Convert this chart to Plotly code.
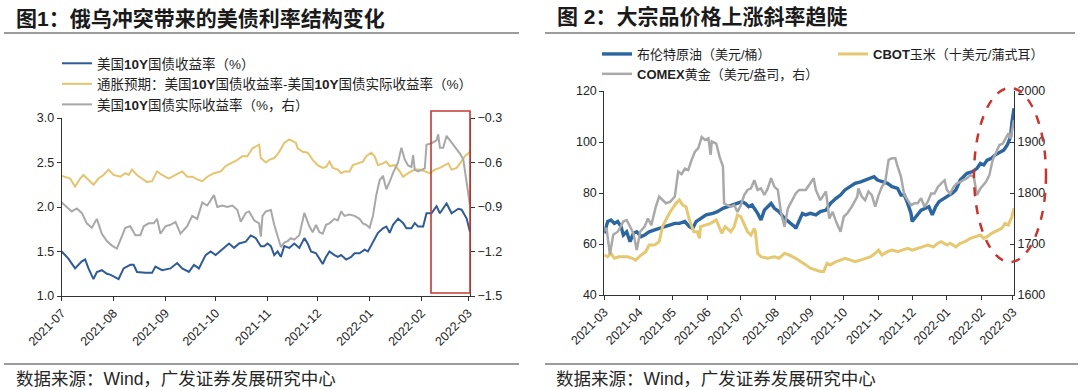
import plotly.graph_objects as go

# ---------------- Left chart data (图1) ----------------
us10y_dates = [
    "2021-07-01", "2021-07-05", "2021-07-09", "2021-07-13", "2021-07-15", "2021-07-17", "2021-07-20", "2021-07-22", "2021-07-25", "2021-07-28", "2021-07-30",
    "2021-08-04", "2021-08-07", "2021-08-11", "2021-08-13", "2021-08-15", "2021-08-20", "2021-08-24", "2021-08-26", "2021-08-30",
    "2021-09-04", "2021-09-08", "2021-09-11", "2021-09-15", "2021-09-18", "2021-09-21", "2021-09-25", "2021-09-28",
    "2021-10-01", "2021-10-05", "2021-10-09", "2021-10-12", "2021-10-15", "2021-10-19", "2021-10-22", "2021-10-25", "2021-10-28", "2021-10-30",
    "2021-11-01", "2021-11-03", "2021-11-05", "2021-11-07", "2021-11-09", "2021-11-11", "2021-11-14", "2021-11-17", "2021-11-20", "2021-11-23", "2021-11-25", "2021-11-27", "2021-11-30",
    "2021-12-02", "2021-12-04", "2021-12-06", "2021-12-08", "2021-12-11", "2021-12-13", "2021-12-15", "2021-12-18", "2021-12-21", "2021-12-23", "2021-12-26", "2021-12-29", "2021-12-31",
    "2022-01-03", "2022-01-06", "2022-01-09", "2022-01-11", "2022-01-13", "2022-01-15", "2022-01-18", "2022-01-21", "2022-01-23", "2022-01-26", "2022-01-28", "2022-01-30",
    "2022-02-02", "2022-02-04", "2022-02-07", "2022-02-10", "2022-02-12", "2022-02-16", "2022-02-19", "2022-02-23", "2022-02-25", "2022-02-28",
    "2022-03-02",
]
us10y_vals = [
    1.50, 1.42, 1.31, 1.39, 1.41, 1.31, 1.19, 1.27, 1.29, 1.25, 1.24,
    1.19, 1.31, 1.35, 1.35, 1.27, 1.26, 1.26, 1.33, 1.29,
    1.31, 1.37, 1.31, 1.27, 1.35, 1.31, 1.46, 1.50,
    1.46, 1.52, 1.59, 1.54, 1.59, 1.61, 1.68, 1.65, 1.56, 1.56,
    1.59, 1.56, 1.46, 1.50, 1.44, 1.56, 1.54, 1.59, 1.54, 1.65, 1.59, 1.50, 1.48,
    1.42, 1.36, 1.44, 1.50, 1.46, 1.44, 1.46, 1.41, 1.44, 1.48, 1.48, 1.52, 1.50,
    1.61, 1.71, 1.76, 1.78, 1.71, 1.80, 1.87, 1.82, 1.76, 1.76, 1.82, 1.78,
    1.78, 1.93, 1.93, 2.01, 1.93, 2.04, 1.93, 1.98, 1.97, 1.87,
    1.72,
]

breakeven_dates = [
    "2021-07-01", "2021-07-06", "2021-07-09", "2021-07-12", "2021-07-14", "2021-07-17", "2021-07-20", "2021-07-23", "2021-07-26", "2021-07-29",
    "2021-08-01", "2021-08-05", "2021-08-08", "2021-08-10", "2021-08-12", "2021-08-15", "2021-08-18", "2021-08-21", "2021-08-24", "2021-08-27", "2021-08-30",
    "2021-09-03", "2021-09-07", "2021-09-11", "2021-09-14", "2021-09-17", "2021-09-20", "2021-09-23", "2021-09-26", "2021-09-30",
    "2021-10-04", "2021-10-07", "2021-10-10", "2021-10-14", "2021-10-17", "2021-10-20", "2021-10-23", "2021-10-27", "2021-10-28", "2021-10-31",
    "2021-11-02", "2021-11-05", "2021-11-08", "2021-11-11", "2021-11-14", "2021-11-16", "2021-11-18", "2021-11-19", "2021-11-22", "2021-11-25", "2021-11-28",
    "2021-12-01", "2021-12-04", "2021-12-06", "2021-12-08", "2021-12-10", "2021-12-13", "2021-12-15", "2021-12-17", "2021-12-20", "2021-12-22", "2021-12-25", "2021-12-28", "2021-12-30",
    "2022-01-02", "2022-01-04", "2022-01-06", "2022-01-09", "2022-01-11", "2022-01-13", "2022-01-16", "2022-01-19", "2022-01-21", "2022-01-24", "2022-01-26", "2022-01-28", "2022-01-31",
    "2022-02-03", "2022-02-06", "2022-02-09", "2022-02-12", "2022-02-15", "2022-02-17", "2022-02-19", "2022-02-22", "2022-02-24", "2022-02-27",
    "2022-03-02",
]
breakeven_vals = [
    2.35, 2.32, 2.23, 2.32, 2.36, 2.31, 2.25, 2.32, 2.36, 2.42,
    2.36, 2.34, 2.38, 2.36, 2.42, 2.36, 2.32, 2.28, 2.29, 2.40, 2.36,
    2.32, 2.36, 2.40, 2.34, 2.34, 2.31, 2.29, 2.34, 2.38,
    2.40, 2.46, 2.49, 2.53, 2.57, 2.57, 2.66, 2.70, 2.55, 2.50,
    2.53, 2.55, 2.62, 2.72, 2.76, 2.74, 2.72, 2.66, 2.62, 2.61, 2.53,
    2.47, 2.44, 2.45, 2.51, 2.44, 2.42, 2.38, 2.40, 2.40, 2.47, 2.49, 2.51, 2.57,
    2.61, 2.57, 2.47, 2.49, 2.51, 2.46, 2.47, 2.40, 2.34, 2.38, 2.40, 2.42, 2.42,
    2.40, 2.38, 2.42, 2.44, 2.47, 2.49, 2.42, 2.44, 2.49, 2.57,
    2.62,
]

real_dates = [
    "2021-07-01", "2021-07-04", "2021-07-07", "2021-07-10", "2021-07-13", "2021-07-16", "2021-07-19", "2021-07-22", "2021-07-25", "2021-07-28", "2021-07-31",
    "2021-08-03", "2021-08-05", "2021-08-08", "2021-08-11", "2021-08-14", "2021-08-17", "2021-08-19", "2021-08-22", "2021-08-25", "2021-08-27", "2021-08-29",
    "2021-09-01", "2021-09-04", "2021-09-07", "2021-09-10", "2021-09-14", "2021-09-17", "2021-09-20", "2021-09-23", "2021-09-26", "2021-09-30",
    "2021-10-02", "2021-10-05", "2021-10-08", "2021-10-11", "2021-10-14", "2021-10-16", "2021-10-19", "2021-10-21", "2021-10-24", "2021-10-27", "2021-10-28", "2021-10-29", "2021-10-31",
    "2021-11-03", "2021-11-05", "2021-11-07", "2021-11-09", "2021-11-11", "2021-11-13", "2021-11-15", "2021-11-17", "2021-11-20", "2021-11-23", "2021-11-26", "2021-11-28", "2021-11-30",
    "2021-12-02", "2021-12-04", "2021-12-06", "2021-12-08", "2021-12-11", "2021-12-13", "2021-12-15", "2021-12-17", "2021-12-20", "2021-12-23", "2021-12-26", "2021-12-28", "2021-12-30",
    "2022-01-01", "2022-01-03", "2022-01-05", "2022-01-07", "2022-01-09", "2022-01-11", "2022-01-13", "2022-01-15", "2022-01-18", "2022-01-20", "2022-01-22", "2022-01-24", "2022-01-26", "2022-01-27", "2022-01-28", "2022-01-30",
    "2022-02-01", "2022-02-03", "2022-02-04", "2022-02-07", "2022-02-10", "2022-02-11", "2022-02-12", "2022-02-14", "2022-02-16", "2022-02-18", "2022-02-21", "2022-02-24", "2022-02-26", "2022-02-28",
    "2022-03-02",
]
real_vals = [
    -0.87, -0.90, -0.93, -0.91, -0.94, -1.01, -1.04, -0.98, -1.08, -1.13, -1.16,
    -1.18, -1.12, -1.04, -1.03, -1.09, -1.09, -1.03, -1.01, -1.01, -0.98, -1.08,
    -1.03, -1.02, -1.00, -1.08, -1.03, -0.96, -0.98, -0.87, -0.89, -0.82,
    -0.90, -0.89, -0.90, -0.89, -0.92, -1.00, -0.94, -0.93, -0.99, -1.01, -1.10, -0.96, -0.93,
    -0.92, -1.02, -1.10, -1.17, -1.14, -1.13, -1.11, -1.12, -1.09, -0.94, -1.03, -1.07, -1.02,
    -1.07, -1.08, -1.02, -1.01, -0.98, -0.99, -0.93, -0.96, -0.95, -0.96, -0.98, -1.01, -1.02,
    -1.04, -0.96, -0.82, -0.72, -0.69, -0.78, -0.73, -0.67, -0.60, -0.50, -0.58, -0.62, -0.63, -0.55, -0.65, -0.66,
    -0.65, -0.64, -0.48, -0.47, -0.45, -0.41, -0.50, -0.50, -0.42, -0.45, -0.49, -0.54, -0.58, -0.74,
    -0.89,
]

# ---------------- Right chart data (图2) ----------------
brent_dates = [
    "2021-03-01", "2021-03-04", "2021-03-07", "2021-03-10", "2021-03-13", "2021-03-16", "2021-03-18", "2021-03-21", "2021-03-24", "2021-03-27", "2021-03-30",
    "2021-04-03", "2021-04-06", "2021-04-10", "2021-04-15", "2021-04-19", "2021-04-24", "2021-04-28",
    "2021-05-03", "2021-05-07", "2021-05-12", "2021-05-16", "2021-05-19", "2021-05-22", "2021-05-27", "2021-05-31",
    "2021-06-06", "2021-06-10", "2021-06-15", "2021-06-19", "2021-06-24", "2021-06-28",
    "2021-07-02", "2021-07-05", "2021-07-08", "2021-07-11", "2021-07-16", "2021-07-19", "2021-07-22", "2021-07-25", "2021-07-28", "2021-07-31",
    "2021-08-04", "2021-08-09", "2021-08-13", "2021-08-18", "2021-08-19", "2021-08-22", "2021-08-25", "2021-08-28",
    "2021-09-01", "2021-09-06", "2021-09-10", "2021-09-15", "2021-09-19", "2021-09-24", "2021-09-28",
    "2021-10-02", "2021-10-07", "2021-10-11", "2021-10-16", "2021-10-20", "2021-10-25", "2021-10-28", "2021-10-31",
    "2021-11-04", "2021-11-09", "2021-11-13", "2021-11-18", "2021-11-21", "2021-11-24", "2021-11-27", "2021-11-30",
    "2021-12-01", "2021-12-04", "2021-12-09", "2021-12-13", "2021-12-16", "2021-12-19", "2021-12-22", "2021-12-25", "2021-12-28",
    "2022-01-01", "2022-01-06", "2022-01-09", "2022-01-13", "2022-01-16", "2022-01-19", "2022-01-24", "2022-01-28", "2022-01-31",
    "2022-02-03", "2022-02-06", "2022-02-10", "2022-02-13", "2022-02-18", "2022-02-21", "2022-02-24", "2022-02-27", "2022-02-28",
    "2022-03-02",
]
brent_vals = [
    64.2, 68.8, 69.4, 68.1, 68.8, 66.8, 63.5, 64.8, 60.9, 64.2, 64.8,
    62.9, 63.5, 64.8, 65.5, 66.1, 66.8, 67.5,
    68.1, 68.1, 68.8, 66.8, 66.1, 68.8, 70.1, 71.4,
    72.0, 72.7, 74.0, 74.6, 75.3, 75.9,
    76.6, 75.9, 74.6, 75.3, 72.0, 69.4, 73.3, 74.6, 75.9, 74.0,
    72.7, 70.1, 68.8, 66.8, 66.1, 68.8, 72.0, 71.4,
    72.0, 71.4, 72.7, 73.3, 75.9, 77.9, 79.2,
    81.2, 82.5, 83.8, 84.4, 85.1, 85.8, 86.4, 85.1,
    84.4, 83.8, 82.5, 81.8, 79.2, 79.2, 75.9, 72.0,
    68.8, 70.7, 73.3, 74.0, 74.6, 71.4, 74.6, 76.6, 77.3,
    78.6, 79.9, 81.2, 85.1, 86.4, 87.7, 88.4, 89.7, 91.6,
    91.0, 92.9, 93.6, 94.9, 96.2, 96.9, 98.8, 102.1, 107.3,
    113.2,
]

corn_dates = [
    "2021-03-01", "2021-03-04", "2021-03-07", "2021-03-10", "2021-03-14", "2021-03-19", "2021-03-22", "2021-03-26", "2021-03-29",
    "2021-04-03", "2021-04-07", "2021-04-10", "2021-04-15", "2021-04-19", "2021-04-22", "2021-04-25", "2021-04-29",
    "2021-05-04", "2021-05-07", "2021-05-10", "2021-05-13", "2021-05-16", "2021-05-20", "2021-05-23", "2021-05-25", "2021-05-26", "2021-05-31",
    "2021-06-04", "2021-06-09", "2021-06-12", "2021-06-14", "2021-06-17", "2021-06-22", "2021-06-25", "2021-06-28",
    "2021-07-01", "2021-07-04", "2021-07-07", "2021-07-10", "2021-07-13", "2021-07-14", "2021-07-16", "2021-07-19", "2021-07-25", "2021-07-31",
    "2021-08-04", "2021-08-09", "2021-08-13", "2021-08-19", "2021-08-24", "2021-08-28",
    "2021-09-01", "2021-09-06", "2021-09-10", "2021-09-13", "2021-09-16", "2021-09-19", "2021-09-24", "2021-09-28",
    "2021-10-02", "2021-10-07", "2021-10-11", "2021-10-16", "2021-10-20", "2021-10-25", "2021-10-29",
    "2021-11-01", "2021-11-04", "2021-11-09", "2021-11-13", "2021-11-18", "2021-11-22", "2021-11-27",
    "2021-12-01", "2021-12-06", "2021-12-11", "2021-12-15", "2021-12-20", "2021-12-24", "2021-12-27",
    "2022-01-01", "2022-01-04", "2022-01-09", "2022-01-13", "2022-01-17", "2022-01-22", "2022-01-26", "2022-01-31",
    "2022-02-03", "2022-02-06", "2022-02-10", "2022-02-13", "2022-02-16", "2022-02-19", "2022-02-22", "2022-02-25", "2022-02-28",
    "2022-03-02",
]
corn_vals = [
    55.7, 55.0, 56.3, 54.4, 55.0, 55.0, 55.0, 54.4, 53.7,
    55.7, 57.0, 59.6, 59.6, 60.9, 66.8, 69.4, 72.7,
    75.9, 77.3, 75.3, 74.6, 69.4, 64.8, 64.8, 62.2, 66.8, 67.5,
    68.1, 69.4, 66.1, 64.2, 66.8, 64.8, 66.8, 71.4,
    70.7, 67.5, 64.8, 63.5, 66.1, 64.8, 56.3, 55.0, 54.4, 55.0,
    54.4, 56.3, 55.7, 54.4, 53.1, 51.8,
    50.5, 49.8, 49.2, 49.2, 52.4, 51.8, 53.1, 53.7,
    54.4, 53.7, 53.1, 53.7, 54.4, 55.0, 56.3,
    57.6, 55.7, 57.0, 57.6, 57.0, 57.6, 58.3,
    57.6, 58.3, 58.9, 59.6, 58.9, 60.3, 60.9,
    59.6, 60.3, 58.9, 60.3, 60.9, 62.2, 62.9, 63.5,
    62.2, 62.9, 64.2, 64.8, 65.5, 66.1, 68.1, 67.5, 70.7,
    74.0,
]

gold_dates = [
    "2021-03-01", "2021-03-03", "2021-03-06", "2021-03-09", "2021-03-13", "2021-03-18", "2021-03-21", "2021-03-24", "2021-03-27", "2021-03-30",
    "2021-04-02", "2021-04-06", "2021-04-09", "2021-04-12", "2021-04-16", "2021-04-19", "2021-04-22", "2021-04-25", "2021-04-29",
    "2021-05-03", "2021-05-06", "2021-05-09", "2021-05-12", "2021-05-15", "2021-05-18", "2021-05-21", "2021-05-24", "2021-05-27", "2021-05-30",
    "2021-06-02", "2021-06-04", "2021-06-05", "2021-06-09", "2021-06-12", "2021-06-15", "2021-06-16", "2021-06-19", "2021-06-22", "2021-06-25", "2021-06-28",
    "2021-07-01", "2021-07-04", "2021-07-07", "2021-07-10", "2021-07-13", "2021-07-16", "2021-07-19", "2021-07-22", "2021-07-25", "2021-07-28", "2021-07-31",
    "2021-08-03", "2021-08-06", "2021-08-09", "2021-08-12", "2021-08-16", "2021-08-19", "2021-08-22", "2021-08-28",
    "2021-09-04", "2021-09-06", "2021-09-10", "2021-09-15", "2021-09-18", "2021-09-21", "2021-09-24", "2021-09-28",
    "2021-10-01", "2021-10-04", "2021-10-08", "2021-10-13", "2021-10-14", "2021-10-17", "2021-10-20", "2021-10-23", "2021-10-26", "2021-10-29",
    "2021-11-01", "2021-11-04", "2021-11-07", "2021-11-09", "2021-11-10", "2021-11-13", "2021-11-16", "2021-11-18", "2021-11-21", "2021-11-24", "2021-11-27", "2021-11-30",
    "2021-12-03", "2021-12-06", "2021-12-09", "2021-12-12", "2021-12-15", "2021-12-18", "2021-12-21", "2021-12-24", "2021-12-27", "2021-12-30",
    "2022-01-01", "2022-01-04", "2022-01-07", "2022-01-10", "2022-01-13", "2022-01-16", "2022-01-19", "2022-01-22", "2022-01-25", "2022-01-28", "2022-01-31",
    "2022-02-05", "2022-02-08", "2022-02-11", "2022-02-14", "2022-02-17", "2022-02-20", "2022-02-23", "2022-02-25", "2022-02-27",
    "2022-03-01", "2022-03-02",
]
gold_vals = [
    1727, 1731, 1680, 1718, 1724, 1744, 1747, 1734, 1721, 1688,
    1724, 1734, 1750, 1737, 1773, 1793, 1786, 1780, 1783,
    1793, 1842, 1837, 1848, 1845, 1865, 1881, 1888, 1910, 1904,
    1907, 1875, 1901, 1897, 1871, 1852, 1780, 1776, 1773, 1776, 1763,
    1776, 1796, 1806, 1809, 1825, 1806, 1809, 1796, 1809, 1829, 1812,
    1806, 1760, 1734, 1770, 1786, 1799, 1806, 1806,
    1829, 1806, 1786, 1803, 1750, 1763, 1744, 1724,
    1754, 1760, 1773, 1793, 1809, 1793, 1786, 1803, 1796, 1773,
    1796, 1812, 1822, 1852, 1865, 1868, 1868, 1852, 1832, 1796, 1786, 1776,
    1780, 1780, 1790, 1773, 1783, 1799, 1799, 1812, 1819, 1825,
    1806, 1799, 1812, 1819, 1822, 1825, 1829, 1835, 1832, 1796, 1809,
    1822, 1835, 1865, 1881, 1894, 1897, 1910, 1917, 1907,
    1937, 1943,
]

# ---------------- Text ----------------
title_left = "<b>图1：俄乌冲突带来的美债利率结构变化</b>"
title_right = "<b>图 2：大宗品价格上涨斜率趋陡</b>"
source_text = "数据来源：Wind，广发证券发展研究中心"
names_left = ["美国<b>10Y</b>国债收益率（%）",
              "通胀预期：美国<b>10Y</b>国债收益率-美国<b>10Y</b>国债实际收益率（%）",
              "美国<b>10Y</b>国债实际收益率（%，右）"]
names_right = ["布伦特原油（美元/桶）", "<b>CBOT</b>玉米（十美元/蒲式耳）", "<b>COMEX</b>黄金（美元/盎司，右）"]

# ---------------- Styling ----------------
FONT = "Liberation Sans, Arial, Noto Sans CJK SC, sans-serif"
CJK = "Liberation Sans, Noto Sans CJK SC, sans-serif"
W, H = 1080, 390
AX = "#333333"
TICKFONT = dict(family=FONT, size=12.5, color="#262626")

def px(x):
    return x / W

def py(y):
    return 1 - y / H

fig = go.Figure()

# Left chart traces
fig.add_trace(go.Scatter(x=us10y_dates, y=us10y_vals, name=names_left[0], mode="lines",
                         line=dict(color="#2F5B96", width=2), xaxis="x", yaxis="y", legend="legend"))
fig.add_trace(go.Scatter(x=breakeven_dates, y=breakeven_vals, name=names_left[1], mode="lines",
                         line=dict(color="#E4C46E", width=2), xaxis="x", yaxis="y", legend="legend"))
fig.add_trace(go.Scatter(x=real_dates, y=real_vals, name=names_left[2], mode="lines",
                         line=dict(color="#A8A8A8", width=2), xaxis="x", yaxis="y2", legend="legend"))

# Right chart traces
fig.add_trace(go.Scatter(x=brent_dates, y=brent_vals, name=names_right[0], mode="lines",
                         line=dict(color="#2B66A0", width=3.4), xaxis="x2", yaxis="y3", legend="legend2"))
fig.add_trace(go.Scatter(x=corn_dates, y=corn_vals, name=names_right[1], mode="lines",
                         line=dict(color="#E5C870", width=3), xaxis="x2", yaxis="y3", legend="legend3"))
fig.add_trace(go.Scatter(x=gold_dates, y=gold_vals, name=names_right[2], mode="lines",
                         line=dict(color="#A9A9A9", width=2.5), xaxis="x2", yaxis="y4", legend="legend2"))

common_x = dict(type="date", tickmode="linear", dtick="M1", tickformat="%Y-%m", tickangle=-45,
                showgrid=False, zeroline=False, showline=True, linecolor=AX, linewidth=1,
                ticks="outside", ticklen=4, tickcolor=AX, tickfont=TICKFONT, automargin=False)
common_y = dict(showgrid=False, zeroline=False, showline=True, linecolor=AX, linewidth=1,
                ticklen=4, tickcolor=AX, tickfont=TICKFONT, automargin=False)

legend_font_l = dict(family=CJK, size=13.5, color="#1f1f1f")
legend_font_r = dict(family=CJK, size=13, color="#1f1f1f")

fig.update_layout(
    width=W, height=H,
    margin=dict(l=0, r=0, t=0, b=0),
    paper_bgcolor="white", plot_bgcolor="white",
    showlegend=True,
    xaxis=dict(common_x, domain=[px(61.7), px(470)], anchor="y",
               range=["2021-07-01", "2022-03-02"], tick0="2021-07-01"),
    yaxis=dict(common_y, domain=[py(296), py(118)], anchor="x", range=[1.0, 3.0],
               tick0=1.0, dtick=0.5, tickformat=".1f", ticks="outside"),
    yaxis2=dict(common_y, overlaying="y", anchor="x", side="right", range=[-1.5, -0.3],
                tick0=-1.5, dtick=0.3, tickformat=".1f", ticks="outside"),
    xaxis2=dict(common_x, domain=[px(604.3), px(1014)], anchor="y3",
                range=["2021-03-01", "2022-03-02"], tick0="2021-03-01"),
    yaxis3=dict(common_y, domain=[py(295), py(91)], anchor="x2", range=[40, 120],
                tick0=40, dtick=20, ticks="outside"),
    yaxis4=dict(common_y, overlaying="y3", anchor="x2", side="right", range=[1600, 2000],
                tick0=1600, dtick=100, ticks="inside"),
    legend=dict(x=px(57), y=py(48), xanchor="left", yanchor="top", orientation="v",
                font=legend_font_l, bgcolor="rgba(0,0,0,0)", borderwidth=0,
                traceorder="normal", itemwidth=30, tracegroupgap=0),
    legend2=dict(x=px(597), y=py(39), xanchor="left", yanchor="top", orientation="v",
                 font=legend_font_r, bgcolor="rgba(0,0,0,0)", borderwidth=0,
                 traceorder="normal", itemwidth=30, tracegroupgap=0),
    legend3=dict(x=px(833), y=py(39), xanchor="left", yanchor="top", orientation="v",
                 font=legend_font_r, bgcolor="rgba(0,0,0,0)", borderwidth=0,
                 traceorder="normal", itemwidth=30, tracegroupgap=0),
)

# Titles and sources
fig.add_annotation(text=title_left, xref="paper", yref="paper", x=px(14), y=py(18),
                   xanchor="left", yanchor="middle", showarrow=False,
                   font=dict(family=CJK, size=21, color="#1a1a1a"))
fig.add_annotation(text=title_right, xref="paper", yref="paper", x=px(555), y=py(17),
                   xanchor="left", yanchor="middle", showarrow=False,
                   font=dict(family=CJK, size=21, color="#1a1a1a"))
fig.add_annotation(text=source_text, xref="paper", yref="paper", x=px(14), y=py(379),
                   xanchor="left", yanchor="middle", showarrow=False,
                   font=dict(family=CJK, size=17.5, color="#262626"))
fig.add_annotation(text=source_text, xref="paper", yref="paper", x=px(554), y=py(379),
                   xanchor="left", yanchor="middle", showarrow=False,
                   font=dict(family=CJK, size=17.5, color="#262626"))

# Separator rules
for (x0, x1, y) in [(4, 519, 33), (545, 1075, 33), (4, 519, 364), (545, 1078, 364)]:
    fig.add_shape(type="line", xref="paper", yref="paper", x0=px(x0), x1=px(x1), y0=py(y), y1=py(y),
                  line=dict(color="#3a3a3a", width=1.2))

# Highlight rectangle (left) and dashed ellipse (right)
fig.add_shape(type="rect", xref="paper", yref="paper", x0=px(431), x1=px(470), y0=py(293), y1=py(111),
              line=dict(color="#C23A33", width=1.6), fillcolor="rgba(0,0,0,0)", layer="above")
fig.add_shape(type="circle", xref="paper", yref="paper", x0=px(974), x1=px(1046), y0=py(262), y1=py(88),
              line=dict(color="#C8352E", width=2.5, dash="dash"), fillcolor="rgba(0,0,0,0)", layer="above")

fig.write_html("out.html",
               config={"displayModeBar": False, "staticPlot": True},
               post_script="document.body.style.margin='0';document.body.style.padding='0';document.body.style.overflow='hidden';")
